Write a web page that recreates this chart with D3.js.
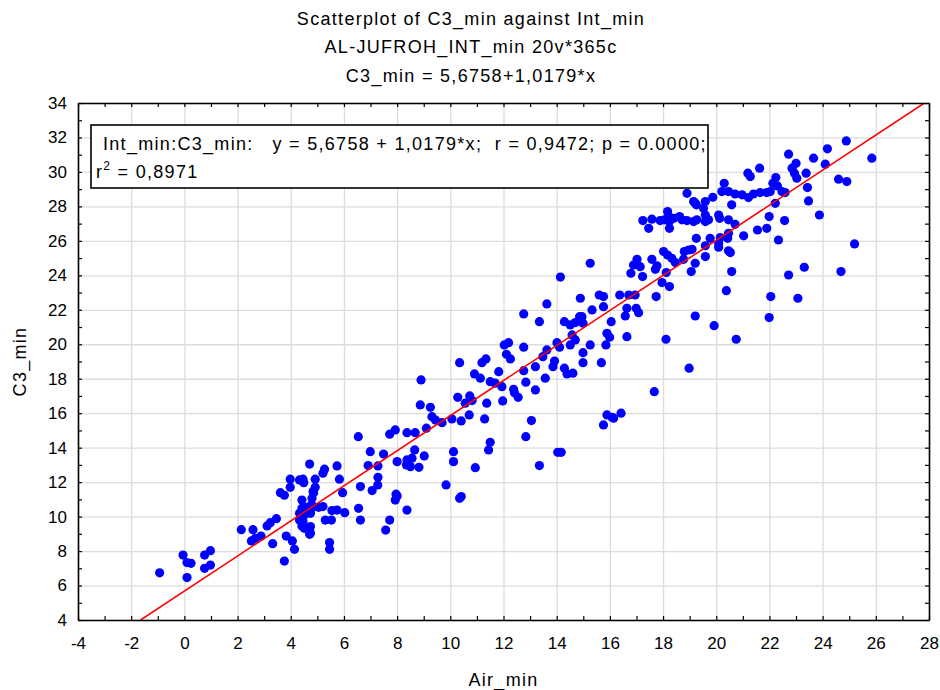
<!DOCTYPE html>
<html>
<head>
<meta charset="utf-8">
<script src="https://cdn.jsdelivr.net/npm/d3@7"></script>
<style>
  body { margin: 0; background: #fff; }
  svg { font-family: "Liberation Sans", Arial, sans-serif; }
  .wide { letter-spacing: 1.3px; }
</style>
</head>
<body>
<div id="viz"></div>
<script>
// ---- data ----
const titleLines = [
  'Scatterplot of C3_min against Int_min',
  'AL-JUFROH_INT_min 20v*365c',
  'C3_min = 5,6758+1,0179*x'
];
const xLabel = 'Air_min';
const yLabel = 'C3_min';
const xTicks = [-4, -2, 0, 2, 4, 6, 8, 10, 12, 14, 16, 18, 20, 22, 24, 26, 28];
const yTicks = [4, 6, 8, 10, 12, 14, 16, 18, 20, 22, 24, 26, 28, 30, 32, 34];
const intercept = 5.6758;
const slope = 1.0179;
const legendLine1 = 'Int_min:C3_min:   y = 5,6758 + 1,0179*x;  r = 0,9472; p = 0.0000;';
const legendR2 = '0,8971';

// [Air_min, C3_min]
const points = [
  [-0.93,6.74],[-0.05,7.77],[0.1,7.33],[0.25,7.29],[0.1,6.46],[0.76,7.77],[0.98,8.02],[0.76,7.0],[0.98,7.19],
  [2.14,9.24],[2.58,9.24],[2.52,8.59],[2.67,8.74],[2.88,8.87],[3.11,9.46],[3.23,9.65],[3.46,9.88],[3.32,8.43],
  [3.61,11.39],[3.76,11.24],[3.98,12.17],[3.98,11.7],[3.83,8.87],[4.06,8.59],[4.14,8.1],[3.76,7.42],
  [4.33,12.13],[4.46,12.17],[4.49,11.97],[4.42,10.96],[4.71,13.05],[4.92,12.17],[4.92,11.7],[4.84,11.45],
  [5.27,12.75],[5.21,12.52],[5.74,12.94],[5.83,12.17],[5.95,11.39],[4.86,11.39],[4.8,11.06],
  [4.42,10.48],[4.61,10.54],[4.33,10.19],[4.51,10.09],[4.74,10.19],[4.86,10.58],[5.05,10.54],[5.21,10.58],
  [4.77,10.67],[4.74,10.38],[4.33,9.8],[4.42,9.46],[4.51,9.32],[4.71,9.18],[4.71,8.97],[4.46,9.71],[4.74,9.42],
  [4.74,9.03],[5.55,10.35],[5.74,10.38],[6.03,10.23],[5.3,9.8],[5.53,9.8],[5.46,8.49],[5.46,8.1],
  [6.54,14.64],[6.62,11.74],[6.55,10.48],[6.62,9.8],
  [6.99,13.77],[6.91,12.96],[7.28,12.94],[7.28,12.28],[7.27,11.84],[7.06,11.51],[7.49,13.63],[7.72,14.78],
  [7.93,15.03],[8.37,14.87],[8.68,14.87],[8.0,13.19],[8.37,13.29],[8.56,13.39],[8.35,13.0],[8.5,12.9],
  [8.82,12.86],[8.66,13.87],[9.02,13.52],[7.72,9.8],[7.57,9.22],[7.96,11.3],[8.0,11.2],[7.93,10.96],[8.37,10.38],
  [8.9,17.93],[8.87,16.48],[9.25,16.34],[9.31,15.8],[9.44,15.6],[9.1,15.13],[9.69,15.45],
  [9.84,11.84],[10.35,11.06],[10.41,11.16],[10.06,15.67],[10.41,15.55],[10.71,15.9],[10.28,16.92],[10.73,17.0],
  [10.82,16.73],[10.56,16.58],[10.35,18.93],[10.91,18.28],[11.13,18.03],[11.34,19.15],[11.19,18.93],[11.5,17.83],
  [11.69,17.74],[11.94,17.54],[11.82,18.41],[11.37,16.58],[11.97,16.71],[11.29,15.67],[11.5,14.31],[11.44,13.87],
  [10.12,13.77],[10.12,13.19],[10.94,12.84],
  [12.03,19.96],[12.19,20.09],[12.11,19.42],[12.26,19.15],[12.38,17.39],[12.41,17.19],[12.55,16.92],
  [12.76,21.76],[13.35,21.31],[13.63,22.34],[12.76,19.83],[13.63,19.67],[13.48,19.28],[12.76,18.47],[13.2,18.7],
  [13.57,18.03],[12.84,17.8],[13.2,17.35],[13.05,15.57],[12.84,14.64],[13.35,12.96],[14.04,13.73],[14.17,13.73],
  [14.29,21.31],[14.51,21.12],[14.7,21.26],[14.86,21.6],[14.58,20.54],[14.7,20.25],[14.51,19.96],[14.01,20.09],
  [14.11,19.83],[13.92,19.03],[13.86,18.7],[14.29,18.61],[14.39,18.28],[14.61,18.32],[14.14,23.9],
  [14.89,22.67],[14.95,21.6],[14.99,21.22],[14.99,19.51],[14.99,18.93],
  [15.26,24.7],[15.6,22.86],[15.76,22.77],[15.76,22.18],[15.33,21.99],[16.05,21.31],[15.89,20.64],[15.99,20.41],
  [16.64,20.44],[15.85,19.96],[15.26,19.96],[15.68,18.93],
  [15.89,15.9],[16.08,15.76],[15.76,15.32],[16.42,16.0],[16.14,15.71],
  [16.37,22.86],[16.71,22.86],[16.95,22.86],[16.64,22.09],[16.58,21.64],[16.99,22.09],[17.08,21.83],
  [17.02,24.93],[16.89,24.6],[17.14,24.5],[16.79,24.12],[17.23,23.93],
  [17.24,27.18],[17.58,27.26],[17.46,26.73],[17.58,24.93],[17.77,24.55],[17.71,24.35],[17.96,23.58],[17.74,22.77],
  [17.67,17.25],
  [17.89,27.18],[18.05,27.22],[18.4,27.31],[18.62,27.41],[18.71,27.22],[18.9,27.18],[19.15,27.12],[19.27,27.22],
  [18.17,27.7],[18.21,27.41],[18.24,27.12],[18.24,26.73],
  [18.9,28.76],[19.15,28.28],[19.21,28.18],[19.25,28.09],[19.25,26.15],
  [18.02,25.38],[18.17,25.18],[18.33,24.99],[18.46,24.74],[18.8,25.38],[18.96,25.47],[19.09,25.51],[18.77,24.93],
  [19.21,24.7],[19.06,24.22],[18.12,24.16],[18.24,23.35],[18.11,20.29],[19.21,21.64],[18.98,18.61],
  [22.72,31.03],[23.0,30.5],[22.85,30.22],[22.94,29.93],[23.03,29.64],[23.38,29.93],[23.43,29.09],[23.47,28.32],
  [21.63,30.22],[21.19,29.93],[21.28,29.73],[20.3,29.34],[22.24,29.67],[22.13,29.34],[22.3,29.19],
  [20.21,28.86],[20.46,28.86],[20.71,28.72],[20.97,28.67],[21.21,28.51],[21.4,28.72],[21.65,28.8],[21.9,28.8],
  [22.03,28.86],[22.47,28.86],[22.59,28.8],[19.87,28.53],
  [19.59,28.28],[19.52,27.89],[19.59,27.5],[19.59,27.12],[19.71,27.22],[20.58,28.09],[22.22,28.18],
  [20.09,27.5],[20.13,27.31],[20.46,27.22],[20.71,26.96],[21.99,27.41],[22.57,27.18],[21.55,26.63],[21.9,26.73],
  [21.03,26.29],[22.34,26.05],[19.77,26.15],[20.15,26.19],[20.46,26.44],[20.43,26.15],
  [19.59,25.71],[20.09,25.63],[20.09,25.86],[19.59,25.09],[20.46,25.42],[20.53,25.32],[20.58,24.22],[20.38,23.11],
  [22.05,22.77],[23.07,22.67],[22.72,24.02],[23.31,24.47],[19.92,21.08],[21.99,21.55],[20.75,20.29],
  [24.89,31.8],[24.18,31.34],[23.66,30.8],[24.1,30.45],[25.85,30.8],[24.6,29.58],[24.91,29.44],[23.88,27.5],
  [25.2,25.82],[24.69,24.22]
];

// ---- dimensions ----
const width = 940;
const height = 690;
const margin = {top: 103, right: 11, bottom: 70, left: 78};
const boundedWidth = width - margin.left - margin.right;
const boundedHeight = height - margin.top - margin.bottom;

const svg = d3.select('#viz')
  .append('svg')
    .attr('width', width)
    .attr('height', height);

const plot = svg.append('g')
  .attr('transform', `translate(${margin.left},${margin.top})`);

// ---- scales ----
const xScale = d3.scaleLinear().domain([-4, 28]).range([0, boundedWidth]);
const yScale = d3.scaleLinear().domain([4, 34]).range([boundedHeight, 0]);

// ---- grid ----
plot.append('g')
  .attr('transform', `translate(0,${boundedHeight})`)
  .call(d3.axisBottom(xScale).tickValues(xTicks).tickSize(-boundedHeight).tickFormat(''))
  .call(g => g.select('.domain').remove())
  .call(g => g.selectAll('line').attr('stroke', '#dcdcdc').attr('stroke-width', 1.3));

plot.append('g')
  .call(d3.axisLeft(yScale).tickValues(yTicks).tickSize(-boundedWidth).tickFormat(''))
  .call(g => g.select('.domain').remove())
  .call(g => g.selectAll('line').attr('stroke', '#dcdcdc').attr('stroke-width', 1.3));

// ---- points ----
plot.append('g')
  .selectAll('circle')
  .data(points)
  .join('circle')
    .attr('cx', d => xScale(d[0]))
    .attr('cy', d => yScale(d[1]))
    .attr('r', 4.6)
    .attr('fill', '#0000ff');

// ---- regression line ----
svg.append('clipPath').attr('id', 'plotclip')
  .append('rect').attr('width', boundedWidth).attr('height', boundedHeight);

const xStart = (4 - intercept) / slope;
const xEnd = (34 - intercept) / slope;
plot.append('line')
  .attr('clip-path', 'url(#plotclip)')
  .attr('x1', xScale(xStart))
  .attr('y1', yScale(intercept + slope * xStart))
  .attr('x2', xScale(xEnd))
  .attr('y2', yScale(intercept + slope * xEnd))
  .attr('stroke', '#ff0000')
  .attr('stroke-width', 1.6);

// ---- axes (inward ticks on all four sides) ----
const minorX = d3.range(-4, 29, 1);
const minorY = d3.range(4, 35, 1);
const fmtX = d => xTicks.includes(d) ? String(d) : '';
const fmtY = d => yTicks.includes(d) ? String(d) : '';

const axes = plot.append('g').attr('class', 'axes');
axes.append('g')
  .attr('transform', `translate(0,${boundedHeight})`)
  .call(d3.axisBottom(xScale).tickValues(minorX).tickSize(-4).tickSizeOuter(0).tickPadding(17).tickFormat(fmtX));
axes.append('g')
  .call(d3.axisLeft(yScale).tickValues(minorY).tickSize(-4).tickSizeOuter(0).tickPadding(11).tickFormat(fmtY));
axes.append('g')
  .call(d3.axisTop(xScale).tickValues(minorX).tickSize(-4).tickSizeOuter(0).tickFormat(''));
axes.append('g')
  .attr('transform', `translate(${boundedWidth},0)`)
  .call(d3.axisRight(yScale).tickValues(minorY).tickSize(-4).tickSizeOuter(0).tickFormat(''));

axes.selectAll('.tick text')
  .attr('font-size', 17)
  .attr('font-family', '"Liberation Sans", Arial, sans-serif')
  .attr('fill', '#000');
axes.selectAll('.domain').attr('stroke', '#000').attr('stroke-width', 1.6);
axes.selectAll('.tick line').attr('stroke', '#000').attr('stroke-width', 1.2);

// ---- legend box ----
const legend = svg.append('g');
legend.append('rect')
  .attr('x', 91).attr('y', 125)
  .attr('width', 617).attr('height', 63)
  .attr('fill', '#fff')
  .attr('stroke', '#000')
  .attr('stroke-width', 1.6);
legend.append('text')
  .attr('class', 'wide')
  .attr('x', 103).attr('y', 150)
  .attr('font-size', 18)
  .style('white-space', 'pre')
  .text(legendLine1);
const r2 = legend.append('text')
  .attr('class', 'wide')
  .attr('x', 96).attr('y', 178)
  .attr('font-size', 18);
r2.append('tspan').text('r');
r2.append('tspan').attr('font-size', 12).attr('dy', -8).text('2');
r2.append('tspan').attr('dy', 8).text(' = ' + legendR2);

// ---- titles ----
svg.append('g')
  .selectAll('text')
  .data(titleLines)
  .join('text')
    .attr('class', 'wide')
    .attr('x', 471)
    .attr('y', (d, i) => 25 + i * 28.3)
    .attr('text-anchor', 'middle')
    .attr('font-size', 18)
    .text(d => d);

svg.append('text')
  .attr('class', 'wide')
  .attr('x', margin.left + boundedWidth / 2)
  .attr('y', 686)
  .attr('text-anchor', 'middle')
  .attr('font-size', 18)
  .text(xLabel);

svg.append('text')
  .attr('class', 'wide')
  .attr('transform', `translate(26,${margin.top + boundedHeight / 2}) rotate(-90)`)
  .attr('text-anchor', 'middle')
  .attr('font-size', 18)
  .text(yLabel);
</script>
</body>
</html>
